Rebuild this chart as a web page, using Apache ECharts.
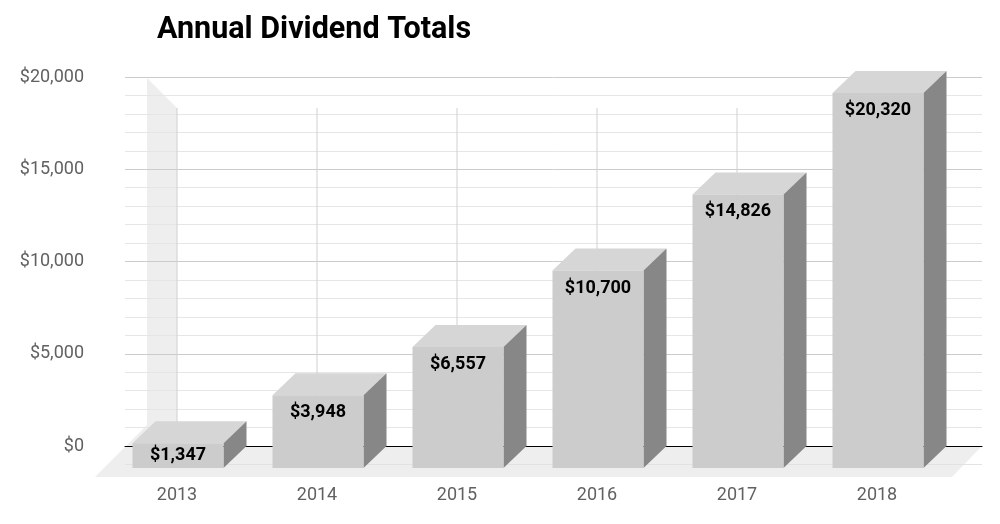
<!DOCTYPE html>
<html>
<head>
<meta charset="utf-8">
<script src="https://cdn.jsdelivr.net/npm/echarts@6/dist/echarts.min.js"></script>
<style>
    html, body { margin: 0; padding: 0; background: #fff; }
    #main { width: 1000px; height: 524px; }
</style>
</head>
<body>
<div id="main"></div>
<script>
// 数据
var years = ['2013', '2014', '2015', '2016', '2017', '2018'];
var totals = [1347, 3948, 6557, 10700, 14826, 20320];
var yMin = 0, yMax = 20000, yStep = 5000;

// 立体效果的参数
var halfW = 45.5;   // 正面半宽
var dx = 23, dy = 22; // 深度偏移
var font = 'Roboto, "Noto Sans", sans-serif';

function money(v) {
    return '$' + v.toString().replace(/\B(?=(\d{3})+(?!\d))/g, ',');
}

var myChart = echarts.init(document.getElementById('main'));

// 背景：左墙、地板、-1000 的网格线
function renderBackdrop(params, api) {
    var p0 = api.coord([0, 0]);
    var pTop = api.coord([0, yMax]);
    var pEnd = api.coord([years.length - 1, 0]);
    var pNeg = api.coord([0, -1000]);
    var y0 = p0[1];
    var xl = p0[0] - 30, xr = p0[0];
    var floorL = xl - 52, floorR = pEnd[0] + 105;
    return {
        type: 'group',
        children: [{
            type: 'polygon',
            shape: {
                points: [
                    [xl, pTop[1] + 1], [xr, pTop[1] + 31], [xr, y0],
                    [floorR, y0], [floorR - 30, y0 + 31],
                    [floorL, y0 + 31], [xl, y0 - 21]
                ]
            },
            style: {fill: '#eeeeee'}
        }, {
            type: 'line',
            shape: {x1: xl - 22, y1: pNeg[1], x2: floorR, y2: pNeg[1]},
            style: {stroke: '#e2e2e2', lineWidth: 1}
        }]
    };
}

// 每一根立体柱子
function renderBar(params, api) {
    var i = api.value(0);
    var val = api.value(1);
    var p = api.coord([i, val]);
    var p0 = api.coord([i, 0]);
    var pTop = api.coord([i, yMax]);
    var cx = p[0] + 1;
    var yTop = p[1] + dy;       // 正面顶部
    var yBot = p0[1] + dy;      // 正面底部
    var l = cx - halfW, r = cx + halfW;
    var labelY = Math.min(yTop + 17.5, (yTop + yBot) / 2);
    return {
        type: 'group',
        children: [{
            type: 'line',
            shape: {x1: p[0], y1: pTop[1] + 31, x2: p[0], y2: p0[1]},
            style: {stroke: '#d0d0d0', lineWidth: 1}
        }, {
            type: 'polygon',
            shape: {points: [[l, yTop], [r, yTop], [r + dx, yTop - dy], [l + dx, yTop - dy]]},
            style: {fill: '#d6d6d6'}
        }, {
            type: 'polygon',
            shape: {points: [[r, yTop], [r + dx, yTop - dy], [r + dx, p0[1]], [r, yBot]]},
            style: {fill: '#878787'}
        }, {
            type: 'rect',
            shape: {x: l, y: yTop, width: halfW * 2, height: yBot - yTop},
            style: {fill: '#cccccc'}
        }, {
            type: 'text',
            x: cx,
            y: labelY,
            style: {
                text: money(totals[i]),
                align: 'center',
                verticalAlign: 'middle',
                fill: '#000',
                font: 'bold 18px ' + font
            }
        }]
    };
}

var barData = [];
for (var i = 0; i < totals.length; i++) {
    barData.push([i, totals[i]]);
}

myChart.setOption({
    animation: false,
    title: {
        text: 'Annual Dividend Totals',
        left: 157,
        top: 15,
        padding: 0,
        textStyle: {fontSize: 30.5, fontWeight: 'bold', color: '#000', fontFamily: font}
    },
    grid: [
        {left: 125, right: 18, top: 77, bottom: 78},   // 后墙网格
        {left: 107, right: 53, top: 77, bottom: 78}    // 柱子
    ],
    xAxis: [{
        type: 'value',
        gridIndex: 0,
        min: 0,
        max: 1,
        axisLine: {show: true, lineStyle: {color: '#000', width: 1}},
        axisTick: {show: false},
        axisLabel: {show: false},
        splitLine: {show: false}
    }, {
        type: 'category',
        gridIndex: 1,
        data: years,
        axisLine: {show: false},
        axisTick: {show: false},
        axisLabel: {margin: 40, fontSize: 18, color: '#616161', fontFamily: font},
        splitLine: {show: false}
    }],
    yAxis: [{
        type: 'value',
        gridIndex: 0,
        min: yMin,
        max: yMax,
        interval: yStep,
        axisLine: {show: false},
        axisTick: {show: false},
        axisLabel: {
            margin: 41,
            fontSize: 18,
            color: '#616161',
            fontFamily: font,
            formatter: function (v) { return money(v); }
        },
        splitLine: {show: true, lineStyle: {color: '#cccccc'}},
        minorTick: {show: false, splitNumber: 5},
        minorSplitLine: {show: true, lineStyle: {color: '#e6e6e6'}}
    }, {
        type: 'value',
        gridIndex: 1,
        min: yMin,
        max: yMax,
        show: false,
        splitLine: {show: false}
    }],
    series: [{
        type: 'custom',
        name: 'backdrop',
        xAxisIndex: 1,
        yAxisIndex: 1,
        z: -1,
        silent: true,
        clip: false,
        renderItem: renderBackdrop,
        data: [[0, 0]]
    }, {
        type: 'custom',
        name: 'Dividends',
        xAxisIndex: 1,
        yAxisIndex: 1,
        z: 3,
        clip: false,
        renderItem: renderBar,
        data: barData
    }]
});
</script>
</body>
</html>
